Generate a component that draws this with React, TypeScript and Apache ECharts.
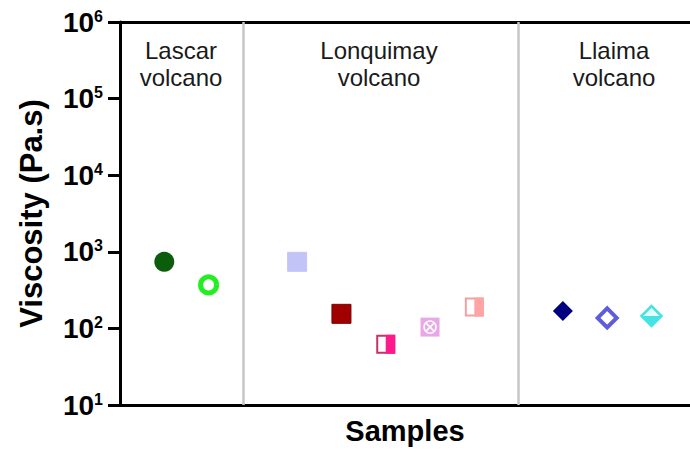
import React, { useEffect, useRef } from "react";
import * as echarts from "echarts";

// ---- data ----
const sampleNames = ["Lascar 1", "Lascar 2", "Lonquimay 1", "Lonquimay 2", "Lonquimay 3", "Lonquimay 4", "Lonquimay 5", "Llaima 1", "Llaima 2", "Llaima 3"];
const samplePositions = [1, 2, 4, 5, 6, 7, 8, 10, 11, 12];
const viscosities = [740, 370, 740, 155, 62, 104, 190, 169, 137, 145];
const markerShapes = ["disc", "ring", "square", "square", "halfSquare", "crossSquare", "halfSquare", "diamond", "openDiamond", "halfDiamond"];
const markerColors = ["#0b5c0b", "#22ee22", "#c2c4f8", "#a00000", "#ff1a8c", "#e8a8e8", "#ffa4a4", "#000080", "#5c5cdc", "#44e4e4"];
const markerEdges = ["#0b5c0b", "#22ee22", "#c2c4f8", "#7a0000", "#c8306c", "#e8a8e8", "#f0a0a0", "#000080", "#5c5cdc", "#44e4e4"];
const separators = [2.78, 9.0];
const groupLabels = ["Lascar\nvolcano", "Lonquimay\nvolcano", "Llaima\nvolcano"];
const groupLabelX = [181, 379, 614];
const yTickExponents = [1, 2, 3, 4, 5, 6];

const FONT = "'Liberation Sans', Arial, Helvetica, sans-serif";

function renderMarker(params: any, api: any) {
  const k = api.value(2);
  const [cx, cy] = api.coord([api.value(0), api.value(1)]);
  const shape = markerShapes[k];
  const fill = markerColors[k];
  const edge = markerEdges[k];
  const children: any[] = [];
  const s = 19;
  const h = s / 2;
  if (shape === "disc") {
    children.push({ type: "circle", shape: { cx, cy, r: 10 }, style: { fill } });
  } else if (shape === "ring") {
    children.push({ type: "circle", shape: { cx, cy, r: 8 }, style: { fill: "#fff", stroke: fill, lineWidth: 5 } });
  } else if (shape === "square") {
    children.push({ type: "rect", shape: { x: cx - h, y: cy - h, width: s, height: s }, style: { fill, stroke: edge, lineWidth: 1 } });
  } else if (shape === "halfSquare") {
    children.push({ type: "rect", shape: { x: cx - h + 1, y: cy - h + 1, width: s - 2, height: s - 2 }, style: { fill: "#fff", stroke: edge, lineWidth: 2 } });
    children.push({ type: "rect", shape: { x: cx, y: cy - h, width: h, height: s }, style: { fill } });
  } else if (shape === "crossSquare") {
    children.push({ type: "rect", shape: { x: cx - h, y: cy - h, width: s, height: s }, style: { fill } });
    children.push({ type: "circle", shape: { cx, cy, r: 6 }, style: { fill: "none", stroke: "#fff", lineWidth: 1.5 } });
    children.push({ type: "line", shape: { x1: cx - 4.5, y1: cy - 4.5, x2: cx + 4.5, y2: cy + 4.5 }, style: { stroke: "#fff", lineWidth: 1.5 } });
    children.push({ type: "line", shape: { x1: cx - 4.5, y1: cy + 4.5, x2: cx + 4.5, y2: cy - 4.5 }, style: { stroke: "#fff", lineWidth: 1.5 } });
  } else if (shape === "diamond") {
    const d = 10;
    children.push({ type: "polygon", shape: { points: [[cx, cy - d], [cx + d, cy], [cx, cy + d], [cx - d, cy]] }, style: { fill } });
  } else if (shape === "openDiamond") {
    const d = 9.5;
    children.push({ type: "polygon", shape: { points: [[cx, cy - d], [cx + d, cy], [cx, cy + d], [cx - d, cy]] }, style: { fill: "#fff", stroke: fill, lineWidth: 4 } });
  } else if (shape === "halfDiamond") {
    const d = 10;
    children.push({ type: "polygon", shape: { points: [[cx, cy - d], [cx + d, cy], [cx, cy + d], [cx - d, cy]] }, style: { fill: "#e6fbfb", stroke: edge, lineWidth: 2.5 } });
    children.push({ type: "polygon", shape: { points: [[cx - d, cy], [cx + d, cy], [cx, cy + d]] }, style: { fill } });
  }
  return { type: "group", children };
}

export default function App() {
  const ref = useRef<HTMLDivElement>(null);
  useEffect(() => {
    if (!ref.current) return;
    const chart = echarts.init(ref.current, null, { renderer: "svg" });
    const option: any = {
      animation: false,
      backgroundColor: "#ffffff",
      textStyle: { fontFamily: FONT },
      grid: { left: 120, right: 0, top: 22, bottom: 55, containLabel: false },
      xAxis: [
        {
          type: "value",
          min: 0,
          max: 12.87,
          name: "Samples",
          nameLocation: "middle",
          nameGap: 11,
          nameTextStyle: { fontSize: 29, fontWeight: "bold", color: "#000", fontFamily: FONT, verticalAlign: "top" },
          axisLine: { show: true, onZero: false, lineStyle: { color: "#000", width: 3 } },
          axisTick: { show: false },
          axisLabel: { show: false },
          splitLine: { show: false },
        },
        {
          type: "value",
          position: "top",
          min: 0,
          max: 12.87,
          axisLine: { show: true, onZero: false, lineStyle: { color: "#000", width: 3 } },
          axisTick: { show: false },
          axisLabel: { show: false },
          splitLine: { show: false },
        },
      ],
      yAxis: {
        type: "log",
        logBase: 10,
        min: Math.pow(10, yTickExponents[0]),
        max: Math.pow(10, yTickExponents[yTickExponents.length - 1]),
        name: "Viscosity (Pa.s)",
        nameLocation: "middle",
        nameGap: 73,
        nameTextStyle: { fontSize: 31, fontWeight: "bold", color: "#000", fontFamily: FONT },
        axisLine: { show: true, onZero: false, lineStyle: { color: "#000", width: 3 } },
        axisTick: { show: true, length: 12, lineStyle: { color: "#000", width: 3 } },
        splitLine: { show: false },
        axisLabel: {
          margin: 17,
          formatter: (v: number) => `{a|10}{b|${Math.round(Math.log10(v))}}`,
          rich: {
            a: { fontSize: 28, fontWeight: "bold", color: "#000", fontFamily: FONT, lineHeight: 28 },
            b: { fontSize: 16, fontWeight: "bold", color: "#000", fontFamily: FONT, lineHeight: 16, verticalAlign: "top" },
          },
        },
      },
      series: [
        {
          type: "custom",
          name: "Viscosity",
          renderItem: renderMarker,
          encode: { x: 0, y: 1 },
          data: samplePositions.map((x, i) => ({ name: sampleNames[i], value: [x, viscosities[i], i] })),
          markLine: {
            silent: true,
            symbol: "none",
            label: { show: false },
            lineStyle: { color: "#c6c6c6", width: 2.5, type: "solid" },
            data: separators.map((x) => ({ xAxis: x })),
          },
          z: 5,
        },
      ],
      graphic: groupLabels.map((t, i) => ({
        type: "text",
        x: groupLabelX[i],
        y: 63.5,
        style: {
          text: t,
          fontSize: 24,
          fontFamily: FONT,
          fill: "#1a1a1a",
          align: "center",
          verticalAlign: "middle",
          lineHeight: 27,
        },
      })),
    };
    chart.setOption(option);
    return () => chart.dispose();
  }, []);
  return <div ref={ref} style={{ position: "fixed", left: 0, top: 0, width: 690, height: 460 }} />;
}
